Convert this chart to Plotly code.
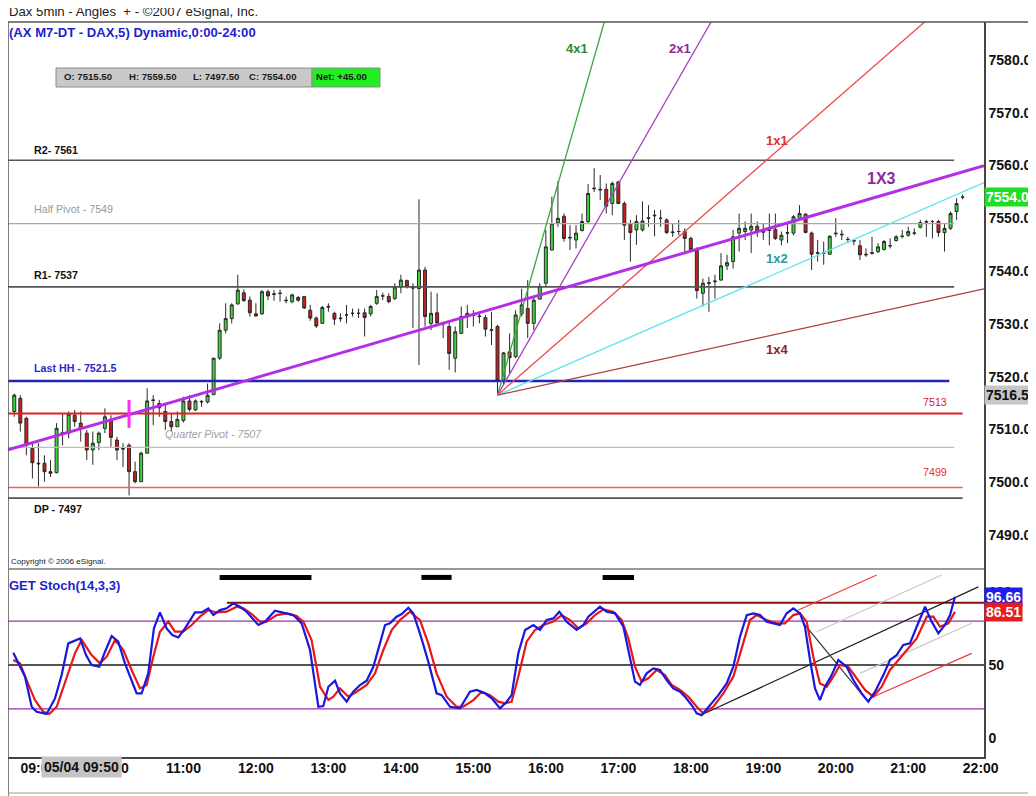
import plotly.graph_objects as go

# ---------------- data ----------------
first_bar_minute = 520      # 08:40, minutes after midnight
bar_minutes = 5

opens = [7513.4, 7515.9, 7512.1, 7506.4, 7503.6, 7503.6, 7502.0, 7501.8, 7509.3, 7509.3,
         7512.7, 7511.2, 7509.3, 7506.1, 7507.5, 7510.2, 7511.9, 7508.0, 7506.4, 7507.0,
         7502.0, 7500.1, 7505.5, 7515.6, 7514.9, 7513.4, 7511.5, 7510.5, 7511.7, 7515.4,
         7513.7, 7515.2, 7515.2, 7516.6, 7523.5, 7528.8, 7531.0, 7533.8, 7535.9, 7534.5,
         7531.9, 7531.9, 7536.1, 7535.7, 7535.8, 7534.5, 7534.2, 7535.0, 7535.2, 7532.6,
         7531.1, 7530.1, 7533.3, 7532.0, 7531.1, 7531.7, 7532.0, 7532.0, 7532.1, 7531.9,
         7533.9, 7535.3, 7535.2, 7534.8, 7537.0, 7538.2, 7536.9, 7536.7, 7540.2, 7530.1,
         7532.1, 7530.1, 7529.5, 7523.5, 7528.2, 7532.0, 7531.7, 7531.5, 7531.2, 7528.9,
         7529.5, 7519.2, 7524.7, 7523.8, 7531.9, 7532.9, 7530.1, 7534.7, 7537.7, 7544.0,
         7549.2, 7550.4, 7546.4, 7545.9, 7547.7, 7549.4, 7555.6, 7555.5, 7555.5, 7552.8,
         7556.9, 7552.8, 7548.9, 7547.8, 7547.8, 7550.0, 7550.6, 7550.0, 7549.7, 7547.3,
         7547.5, 7547.5, 7546.2, 7544.1, 7535.8, 7537.8, 7538.0, 7538.3, 7541.0, 7541.8,
         7547.2, 7547.5, 7547.8, 7548.5, 7547.5, 7547.8, 7547.9, 7545.9, 7547.3, 7547.2,
         7550.0, 7550.8, 7547.2, 7543.5, 7543.5, 7543.2, 7547.2, 7547.0, 7546.0, 7545.8,
         7544.8, 7543.2, 7543.5, 7543.7, 7544.1, 7544.8, 7545.8, 7546.6, 7546.8, 7547.2,
         7548.3, 7549.4, 7549.4, 7549.4, 7547.3, 7548.1, 7551.3, 7554.0]
highs = [7516.8, 7516.5, 7512.4, 7507.7, 7507.4, 7505.1, 7504.2, 7511.2, 7513.0, 7513.4,
         7513.7, 7513.4, 7509.9, 7509.6, 7509.6, 7514.0, 7512.7, 7508.6, 7507.4, 7507.4,
         7503.9, 7505.8, 7517.8, 7516.5, 7515.6, 7514.9, 7513.0, 7513.4, 7516.2, 7516.5,
         7515.7, 7515.6, 7518.7, 7523.6, 7530.1, 7533.9, 7533.9, 7539.3, 7536.5, 7535.2,
         7533.9, 7536.4, 7536.5, 7536.4, 7536.5, 7535.2, 7535.7, 7535.3, 7535.3, 7533.6,
         7531.4, 7533.4, 7533.9, 7532.3, 7532.0, 7533.6, 7532.9, 7532.9, 7532.9, 7533.6,
         7536.4, 7535.9, 7535.8, 7537.7, 7539.3, 7538.4, 7537.7, 7553.6, 7540.8, 7536.1,
         7535.8, 7530.4, 7530.4, 7529.5, 7533.3, 7533.6, 7532.6, 7531.9, 7531.7, 7532.3,
         7529.8, 7524.7, 7528.2, 7532.6, 7536.7, 7538.3, 7535.2, 7537.7, 7547.8, 7554.1,
         7557.0, 7550.9, 7548.7, 7548.7, 7550.9, 7556.5, 7559.5, 7558.2, 7556.6, 7557.0,
         7557.1, 7553.2, 7549.7, 7550.6, 7553.2, 7552.5, 7551.6, 7551.6, 7550.0, 7549.0,
         7549.7, 7548.1, 7546.5, 7544.5, 7538.6, 7538.9, 7539.3, 7543.4, 7543.1, 7547.8,
         7550.9, 7549.4, 7550.9, 7549.4, 7549.1, 7550.9, 7550.9, 7547.5, 7549.1, 7550.6,
         7552.5, 7550.9, 7547.5, 7545.9, 7545.6, 7546.8, 7550.0, 7547.8, 7546.5, 7546.0,
         7545.9, 7544.3, 7546.5, 7545.3, 7545.9, 7546.2, 7546.8, 7547.8, 7548.4, 7548.1,
         7549.7, 7549.7, 7549.7, 7549.7, 7549.1, 7551.3, 7553.8, 7554.5]
lows = [7512.4, 7509.6, 7505.1, 7500.7, 7499.2, 7500.1, 7501.0, 7501.7, 7507.0, 7508.3,
        7510.5, 7507.7, 7504.2, 7503.3, 7506.1, 7509.3, 7506.7, 7504.2, 7502.9, 7497.5,
        7499.8, 7500.1, 7505.5, 7510.8, 7512.4, 7509.9, 7509.6, 7510.5, 7511.3, 7513.4,
        7513.5, 7514.3, 7514.9, 7516.5, 7523.2, 7528.2, 7530.1, 7533.6, 7534.2, 7531.4,
        7531.4, 7531.7, 7534.5, 7534.4, 7534.2, 7533.9, 7533.9, 7534.2, 7532.8, 7530.6,
        7529.2, 7530.0, 7532.3, 7529.8, 7530.4, 7530.1, 7531.4, 7531.1, 7527.6, 7531.4,
        7533.6, 7534.5, 7533.9, 7534.5, 7535.8, 7536.7, 7529.2, 7522.2, 7529.5, 7528.8,
        7529.8, 7527.3, 7521.3, 7520.8, 7528.1, 7529.2, 7529.5, 7530.1, 7527.6, 7526.0,
        7516.5, 7518.5, 7520.6, 7523.5, 7531.4, 7527.3, 7528.8, 7534.6, 7537.1, 7543.9,
        7548.4, 7545.6, 7544.0, 7544.3, 7547.5, 7549.0, 7555.0, 7553.5, 7550.9, 7550.6,
        7552.7, 7545.9, 7541.8, 7545.0, 7547.5, 7548.4, 7546.6, 7548.4, 7547.0, 7546.5,
        7546.8, 7543.7, 7543.7, 7534.8, 7533.3, 7532.3, 7534.8, 7538.2, 7540.2, 7540.5,
        7543.7, 7545.9, 7543.4, 7546.5, 7545.9, 7544.9, 7545.9, 7544.9, 7545.3, 7546.8,
        7549.7, 7547.2, 7540.2, 7541.8, 7541.2, 7543.1, 7546.5, 7545.9, 7545.3, 7544.9,
        7542.1, 7542.7, 7543.1, 7543.4, 7543.9, 7544.3, 7545.6, 7546.2, 7546.5, 7546.8,
        7548.1, 7546.5, 7546.2, 7546.5, 7543.7, 7547.8, 7549.7, 7553.6]
closes = [7516.5, 7511.2, 7507.0, 7503.7, 7503.5, 7502.0, 7501.7, 7510.2, 7509.4, 7512.9,
          7511.5, 7510.2, 7506.1, 7507.4, 7509.3, 7512.4, 7508.5, 7506.1, 7506.3, 7502.0,
          7500.1, 7505.5, 7515.4, 7515.5, 7514.1, 7511.5, 7510.5, 7511.9, 7515.4, 7513.8,
          7515.4, 7515.3, 7516.5, 7523.5, 7528.8, 7531.0, 7533.6, 7536.4, 7534.4, 7532.1,
          7531.5, 7536.1, 7535.3, 7535.6, 7535.8, 7534.4, 7535.5, 7534.5, 7533.0, 7531.1,
          7529.6, 7533.1, 7533.2, 7530.9, 7531.0, 7531.7, 7532.0, 7532.0, 7531.2, 7533.3,
          7535.2, 7535.3, 7534.2, 7537.0, 7538.3, 7537.1, 7536.8, 7540.2, 7531.4, 7532.0,
          7530.2, 7530.0, 7524.4, 7528.5, 7531.4, 7531.4, 7531.6, 7531.4, 7529.0, 7528.8,
          7519.3, 7524.5, 7523.6, 7531.7, 7533.6, 7530.1, 7534.5, 7537.1, 7544.6, 7549.0,
          7550.0, 7546.2, 7546.3, 7547.2, 7549.4, 7554.7, 7555.7, 7555.4, 7552.3, 7556.6,
          7552.8, 7548.7, 7547.3, 7549.4, 7549.5, 7550.1, 7550.5, 7550.0, 7547.3, 7547.4,
          7547.5, 7546.2, 7544.1, 7536.3, 7537.7, 7537.7, 7538.1, 7541.0, 7541.6, 7546.5,
          7548.1, 7548.1, 7548.5, 7547.5, 7547.4, 7547.7, 7546.2, 7546.8, 7547.2, 7550.3,
          7550.9, 7547.3, 7543.2, 7543.4, 7543.4, 7546.6, 7547.1, 7546.9, 7546.0, 7545.7,
          7543.1, 7543.1, 7543.4, 7544.6, 7545.6, 7544.8, 7546.5, 7546.6, 7547.5, 7547.2,
          7549.2, 7549.3, 7549.4, 7547.3, 7548.1, 7550.9, 7552.8, 7554.0]

tick_minutes = [540, 600, 660, 720, 780, 840, 900, 960, 1020, 1080, 1140, 1200, 1260, 1320]
tick_labels = ["09:00", "10:00", "11:00", "12:00", "13:00", "14:00", "15:00",
               "16:00", "17:00", "18:00", "19:00", "20:00", "21:00", "22:00"]
price_ticks = [7490, 7500, 7510, 7520, 7530, 7540, 7550, 7560, 7570, 7580]
price_tick_labels = ["7490.00", "7500.00", "7510.00", "7520.00", "7530.00",
                     "7540.00", "7550.00", "7560.00", "7570.00", "7580.00"]

level_labels = ["R2- 7561", "Half Pivot - 7549", "R1- 7537", "Last HH - 7521.5",
                "7513", "Quarter Pivot - 7507", "7499", "DP - 7497"]
level_prices = [7561, 7549, 7537, 7519.2, 7513, 7506.6, 7499, 7497]
level_end_minutes = [1298, 1298, 1298, 1294, 1305, 1298, 1305, 1305]

fan_labels = ["4x1", "2x1", "1x1", "1x2", "1x4"]
fan_slopes = [4, 2, 1, 0.5, 0.25]          # points per bar
fan_origin_minute = 920
fan_origin_price = 7516.5

trend_label = "1X3"
trend_anchor_minute = 615
trend_anchor_price = 7512.8
trend_slope = 1 / 3

ohlc_texts = ["O: 7515.50", "H: 7559.50", "L: 7497.50", "C: 7554.00", "Net: +45.00"]
last_price = 7554.00
fan_low_price = 7516.50
stoch_k_last = 96.66
stoch_d_last = 86.51

k_times = [519.2, 528.9, 534.4, 538.5, 546.8, 553.7, 559.2, 564.7, 574.4, 579.4, 584.0, 590.4,
           595.1, 600.6, 606.1, 611.6, 621.3, 625.4, 630.9, 635.6, 640.6, 646.1, 650.8, 655.8,
           661.3, 669.6, 675.1, 680.6, 684.8, 690.3, 695.8, 701.3, 706.8, 712.3, 722.0, 727.5,
           735.8, 742.7, 751.0, 757.9, 764.8, 771.7, 775.8, 780.0, 785.5, 789.6, 795.1, 800.6,
           806.2, 811.7, 817.2, 822.7, 826.9, 831.0, 836.5, 840.7, 846.2, 850.3, 855.8, 862.7,
           869.6, 873.8, 880.7, 888.9, 897.2, 902.7, 909.6, 915.2, 922.1, 927.6, 931.7, 937.2,
           942.8, 949.7, 955.2, 960.7, 966.2, 971.2, 977.2, 985.5, 991.0, 995.2, 1004.8, 1010.4,
           1017.3, 1024.2, 1029.7, 1033.8, 1037.9, 1043.5, 1049.0, 1054.5, 1060.0, 1065.5,
           1071.1, 1075.2, 1080.7, 1084.9, 1089.0, 1095.9, 1102.8, 1109.7, 1115.2, 1120.7,
           1126.3, 1131.8, 1137.3, 1142.8, 1148.3, 1153.8, 1159.4, 1164.9, 1170.4, 1174.5,
           1178.7, 1182.8, 1186.9, 1191.1, 1196.6, 1202.1, 1209.0, 1214.5, 1221.4, 1226.9,
           1232.5, 1239.4, 1244.9, 1250.4, 1255.9, 1261.4, 1267.0, 1273.9, 1279.4, 1284.9,
           1290.4, 1294.6, 1298.7]
k_values = [58.4, 42.0, 21.4, 18.0, 16.4, 27.1, 43.1, 64.8, 68.2, 56.8, 50.0, 48.8,
            59.1, 69.8, 66.0, 51.1, 30.6, 30.6, 44.3, 75.1, 86.0, 75.1, 70.5, 68.9,
            75.1, 86.0, 86.0, 88.8, 84.2, 87.6, 88.8, 92.2, 89.9, 86.5, 77.4, 79.6,
            87.2, 85.8, 84.2, 78.5, 60.3, 21.4, 21.9, 35.1, 39.3, 30.6, 24.9, 31.7,
            36.3, 39.3, 48.8, 64.8, 77.4, 78.5, 83.1, 84.9, 89.2, 85.4, 71.7, 52.3,
            30.6, 29.4, 21.4, 20.3, 31.7, 32.9, 30.6, 27.2, 20.3, 24.9, 29.4, 58.0,
            74.0, 77.4, 74.0, 80.8, 81.9, 86.5, 79.7, 74.0, 77.4, 83.1, 89.9, 86.5,
            85.4, 76.2, 55.7, 38.6, 36.3, 44.3, 47.7, 46.6, 39.7, 34.0,
            31.7, 28.3, 22.6, 16.9, 15.7, 22.6, 29.4, 37.4, 48.8, 69.4,
            84.2, 85.4, 84.2, 79.7, 78.5, 77.4, 85.4, 88.8, 85.4, 76.2,
            53.4, 34.0, 26.0, 35.1, 43.1, 53.4, 48.8, 39.7, 30.6, 24.9,
            31.7, 43.1, 53.4, 56.8, 63.7, 64.8, 76.2, 89.9, 79.7, 71.7,
            77.4, 84.2, 96.7]
d_times = [519.2, 524.7, 530.2, 537.1, 544.0, 549.0, 555.1, 563.3, 570.2, 575.8, 584.0, 590.9,
           596.5, 603.4, 610.3, 617.1, 624.1, 629.6, 635.1, 640.6, 647.5, 653.0, 659.9, 666.8,
           673.7, 680.6, 687.5, 695.8, 704.1, 709.6, 716.5, 723.4, 728.9, 737.2, 745.5, 753.7,
           759.3, 766.1, 773.1, 780.0, 784.1, 789.6, 796.5, 803.4, 811.7, 818.6, 825.5, 832.4,
           839.3, 847.5, 855.8, 862.7, 869.6, 877.9, 886.2, 891.7, 900.0, 906.9, 913.8, 920.7,
           926.2, 931.7, 937.2, 944.1, 951.0, 957.9, 966.2, 973.1, 980.0, 986.9, 993.8, 1000.7,
           1007.6, 1015.9, 1022.8, 1028.3, 1033.8, 1039.3, 1044.8, 1051.8, 1058.6, 1064.2,
           1071.1, 1078.0, 1084.9, 1090.4, 1098.7, 1106.9, 1115.2, 1122.1, 1129.0, 1134.5,
           1142.8, 1151.1, 1158.0, 1164.9, 1170.4, 1175.9, 1181.4, 1186.9, 1192.5, 1198.0,
           1203.5, 1210.4, 1217.3, 1224.2, 1231.1, 1238.0, 1244.9, 1251.8, 1258.7, 1267.0,
           1275.3, 1280.8, 1286.3, 1293.2, 1298.7]
d_values = [53.4, 51.1, 39.7, 26.0, 18.0, 16.4, 21.4, 42.0, 58.0, 67.1, 56.8, 51.1,
            55.7, 67.1, 60.3, 46.6, 34.0, 36.3, 55.7, 72.8, 79.7, 72.8, 72.8, 77.4,
            83.1, 87.6, 86.0, 86.5, 89.9, 88.8, 84.9, 79.7, 79.7, 84.2, 85.4, 83.5,
            79.7, 67.1, 35.1, 26.0, 28.3, 34.0, 28.3, 31.7, 36.3, 44.3, 60.3, 74.0,
            80.8, 86.5, 80.8, 64.8, 44.3, 28.3, 21.4, 21.4, 26.0, 31.7, 29.4, 24.9,
            23.7, 24.9, 42.0, 66.0, 74.0, 77.4, 79.7, 84.2, 80.8, 75.1, 78.5, 84.2,
            88.1, 86.5, 80.8, 68.2, 48.8, 38.6, 40.9, 46.6, 43.1, 36.3,
            32.9, 28.3, 21.4, 16.9, 21.4, 30.6, 42.0, 61.4, 80.8, 84.2,
            80.8, 78.5, 78.5, 84.2, 85.4, 79.7, 55.7, 37.4, 35.1, 42.0,
            50.0, 48.8, 40.9, 32.9, 28.3, 35.1, 46.6, 53.4, 60.3, 68.2,
            83.1, 83.1, 76.2, 78.5, 86.5]

stoch_bands = [80, 50, 20]
stoch_resist_level = 92.7
stoch_resist_start = 696
stoch_mark_level = 110
stoch_mark_starts = [690, 857, 1007]
stoch_mark_ends = [766, 882, 1033]
stoch_tick_values = [0, 50, 100]

# user-drawn stochastic trend lines: start (minute, value) -> end (minute, value)
sline_t0 = [1090.4, 1174.5, 1169.0, 1228.4, 1184.2, 1220.0]
sline_v0 = [16.4, 77.4, 87.7, 27.2, 72.8, 44.3]
sline_t1 = [1318.0, 1225.6, 1233.9, 1312.5, 1287.7, 1312.5]
sline_v1 = [103.5, 26.0, 111.6, 58.0, 111.6, 78.6]

marker_minute = 615
marker_low, marker_high = 7510.3, 7515.6

# ---------------- layout geometry ----------------
# the page body adds an 8px offset; coordinates below are page pixels
OFF = 8
W, H = 1036, 796
ML, MT = 0, 14
PW, PH = 976, 735
MR = W - ML - PW
MB = H - MT - PH


def px(x):
    return (x - OFF - ML) / PW


def py(y):
    return (H - MB - (y - OFF)) / PH


SPLIT = py(569)
X_RANGE = [514.8, 1322.7]
SANS = "Liberation Sans, Arial"

bar_times = [first_bar_minute + bar_minutes * i for i in range(len(opens))]

fig = go.Figure()

fig.add_trace(go.Candlestick(
    x=bar_times, open=opens, high=highs, low=lows, close=closes,
    xaxis="x", yaxis="y",
    increasing=dict(line=dict(color="#2a2a2a", width=1), fillcolor="#38d838"),
    decreasing=dict(line=dict(color="#2a2a2a", width=1), fillcolor="#c81e1e"),
    whiskerwidth=0, showlegend=False, hoverinfo="skip",
))

# horizontal pivot levels
level_colors = ["#555555", "#a8a8a8", "#555555", "#2323b4", "#e41e1e", "#bdbdbd", "#f06262", "#555555"]
level_widths = [1.5, 1.2, 1.8, 2.5, 2, 1.2, 1.6, 1.8]
for p, e, c, w in zip(level_prices, level_end_minutes, level_colors, level_widths):
    fig.add_trace(go.Scatter(x=[X_RANGE[0], e], y=[p, p], mode="lines",
                             line=dict(color=c, width=w), xaxis="x", yaxis="y",
                             showlegend=False, hoverinfo="skip"))

# gann fan
fan_colors = ["#3aa83a", "#a646c0", "#ee4a4a", "#5fe4ee", "#b03c3c"]
for s, c in zip(fan_slopes, fan_colors):
    xe = X_RANGE[1]
    ye = fan_origin_price + s * (xe - fan_origin_minute) / bar_minutes
    fig.add_trace(go.Scatter(x=[fan_origin_minute, xe], y=[fan_origin_price, ye], mode="lines",
                             line=dict(color=c, width=1.3), xaxis="x", yaxis="y",
                             showlegend=False, hoverinfo="skip"))

# 1x3 trend line
tx = [X_RANGE[0], X_RANGE[1]]
ty = [trend_anchor_price + trend_slope * (t - trend_anchor_minute) / bar_minutes for t in tx]
fig.add_trace(go.Scatter(x=tx, y=ty, mode="lines", line=dict(color="#b42ee8", width=3),
                         xaxis="x", yaxis="y", showlegend=False, hoverinfo="skip"))

# magenta marker
fig.add_trace(go.Scatter(x=[marker_minute, marker_minute], y=[marker_low, marker_high], mode="lines",
                         line=dict(color="#ff2cf0", width=3), xaxis="x", yaxis="y",
                         showlegend=False, hoverinfo="skip"))

# ---------- stochastic panel ----------
band_colors = ["#9b30a8", "#555555", "#9b30a8"]
band_widths = [1.3, 2, 1.3]
for b, c, w in zip(stoch_bands, band_colors, band_widths):
    fig.add_trace(go.Scatter(x=X_RANGE, y=[b, b], mode="lines", line=dict(color=c, width=w),
                             xaxis="x", yaxis="y2", showlegend=False, hoverinfo="skip"))
fig.add_trace(go.Scatter(x=[stoch_resist_start, X_RANGE[1]], y=[stoch_resist_level] * 2, mode="lines",
                         line=dict(color="#8a0f0f", width=2), xaxis="x", yaxis="y2",
                         showlegend=False, hoverinfo="skip"))
for a, b in zip(stoch_mark_starts, stoch_mark_ends):
    fig.add_trace(go.Scatter(x=[a, b], y=[stoch_mark_level] * 2, mode="lines",
                             line=dict(color="#000000", width=5), xaxis="x", yaxis="y2",
                             showlegend=False, hoverinfo="skip"))

sline_colors = ["#202020", "#404040", "#f03a3a", "#f03a3a", "#c8c8c8", "#c8c8c8"]
for t0, v0, t1, v1, c in zip(sline_t0, sline_v0, sline_t1, sline_v1, sline_colors):
    fig.add_trace(go.Scatter(x=[t0, t1], y=[v0, v1], mode="lines", line=dict(color=c, width=1.2),
                             xaxis="x", yaxis="y2", showlegend=False, hoverinfo="skip"))

fig.add_trace(go.Scatter(x=d_times, y=d_values, mode="lines", line=dict(color="#e81818", width=2.2),
                         xaxis="x", yaxis="y2", showlegend=False, hoverinfo="skip"))
fig.add_trace(go.Scatter(x=k_times, y=k_values, mode="lines", line=dict(color="#1818e0", width=2.2),
                         xaxis="x", yaxis="y2", showlegend=False, hoverinfo="skip"))

ann = []

# level labels
lvl_x = [534.7, 534.7, 534.7, 534.7, 1282, 643, 1282, 534.7]
lvl_anchor = ["left", "left", "left", "left", "center", "left", "center", "left"]
lvl_shift = [10, 15, 12, 13, 12, 13, 16, -11]
lvl_font_col = ["#111111", "#999999", "#111111", "#2a2ac8", "#e02020", "#a0a0a0", "#e83030", "#111111"]
lvl_bold = ["bold", "normal", "bold", "bold", "normal", "normal", "normal", "bold"]
lvl_style = ["normal"] * 5 + ["italic"] + ["normal"] * 2
for t, p, x, a, s, c, b, st in zip(level_labels, level_prices, lvl_x, lvl_anchor, lvl_shift,
                                   lvl_font_col, lvl_bold, lvl_style):
    ann.append(dict(x=x, y=p, xref="x", yref="y", text=t, showarrow=False, xanchor=a,
                    yanchor="middle", yshift=s,
                    font=dict(family=SANS, size=10.7, color=c, weight=b, style=st)))

# fan labels
fan_lab_x = [985.8, 1071.1, 1151.3, 1151.3, 1151.3]
fan_lab_y = [7582.1, 7582.1, 7564.8, 7542.3, 7525.1]
fan_lab_col = ["#2e8b2e", "#8a2a9a", "#e03030", "#2a9c9c", "#8e2424"]
for t, x, y, c in zip(fan_labels, fan_lab_x, fan_lab_y, fan_lab_col):
    ann.append(dict(x=x, y=y, xref="x", yref="y", text=t, showarrow=False,
                    font=dict(family=SANS, size=13, color=c, weight="bold")))
ann.append(dict(x=1238.2, y=7557.5, xref="x", yref="y", text=trend_label, showarrow=False,
                font=dict(family=SANS, size=16, color="#8a2a9a", weight="bold")))

# titles
ann.append(dict(x=px(7), y=py(12), xref="paper", yref="paper", text="Dax 5min - Angles  + - ©2007 eSignal, Inc.",
                showarrow=False, xanchor="left", yanchor="middle",
                font=dict(family=SANS, size=13.2, color="#222222")))
ann.append(dict(x=px(7), y=py(32), xref="paper", yref="paper", text="(AX M7-DT - DAX,5) Dynamic,0:00-24:00",
                showarrow=False, xanchor="left", yanchor="middle",
                font=dict(family=SANS, size=13.1, color="#1e1ed2", weight="bold")))
ann.append(dict(x=px(7), y=py(585), xref="paper", yref="paper", text="GET Stoch(14,3,3)",
                showarrow=False, xanchor="left", yanchor="middle",
                font=dict(family=SANS, size=13, color="#1e1ed2", weight="bold")))
ann.append(dict(x=px(9), y=py(561), xref="paper", yref="paper", text="Copyright © 2006 eSignal.",
                showarrow=False, xanchor="left", yanchor="middle",
                font=dict(family=SANS, size=8.1, color="#222222")))

# OHLC strip text
ohlc_x = [62, 127, 191, 247, 314]
for t, x in zip(ohlc_texts, ohlc_x):
    ann.append(dict(x=px(x), y=py(77), xref="paper", yref="paper", text=t, showarrow=False,
                    xanchor="left", yanchor="middle",
                    font=dict(family=SANS, size=9.6, color="#1a1a1a", weight="bold")))

# right axis value boxes
ann.append(dict(x=1.0, y=last_price, xref="paper", yref="y", text=f"{last_price:.2f}", showarrow=False,
                xanchor="left", yanchor="middle", bgcolor="#22dd22", borderpad=1,
                font=dict(family=SANS, size=14, color="#ffffff", weight="bold")))
ann.append(dict(x=1.0, y=fan_low_price, xref="paper", yref="y", text=f"{fan_low_price:.2f}", showarrow=False,
                xanchor="left", yanchor="middle", bgcolor="#c6c6c6", borderpad=1,
                font=dict(family=SANS, size=14, color="#111111", weight="bold")))
ann.append(dict(x=1.0, y=stoch_k_last, xref="paper", yref="y2", text=f"{stoch_k_last:.2f}", showarrow=False,
                xanchor="left", yanchor="middle", bgcolor="#1e1ee6", borderpad=1,
                font=dict(family=SANS, size=14, color="#ffffff", weight="bold")))
ann.append(dict(x=1.0, y=stoch_d_last, xref="paper", yref="y2", text=f"{stoch_d_last:.2f}", showarrow=False,
                xanchor="left", yanchor="middle", bgcolor="#e61e1e", borderpad=1,
                font=dict(family=SANS, size=14, color="#ffffff", weight="bold")))

# cursor date box on time axis
ann.append(dict(x=px(81), y=py(767), xref="paper", yref="paper", text="05/04 09:50", showarrow=False,
                xanchor="center", yanchor="middle", bgcolor="#c4c4c4", borderpad=2,
                font=dict(family=SANS, size=14, color="#111111", weight="bold")))

shapes = [
    # OHLC strip
    dict(type="rect", xref="paper", yref="paper", x0=px(56), x1=px(312), y0=py(87), y1=py(68),
         fillcolor="#c9c9c9", line=dict(color="#8c8c8c", width=1), layer="above"),
    dict(type="rect", xref="paper", yref="paper", x0=px(312), x1=px(380), y0=py(87), y1=py(68),
         fillcolor="#22ee22", line=dict(color="#8c8c8c", width=1), layer="above"),
    # frame lines
    dict(type="line", xref="paper", yref="paper", x0=px(0), x1=px(1040), y0=1, y1=1,
         line=dict(color="#555555", width=1.5)),
    dict(type="line", xref="paper", yref="paper", x0=0, x1=0, y0=py(800), y1=1,
         line=dict(color="#555555", width=1.5)),
    dict(type="line", xref="paper", yref="paper", x0=0, x1=1, y0=SPLIT, y1=SPLIT,
         line=dict(color="#777777", width=1.5)),
    dict(type="line", xref="paper", yref="paper", x0=0, x1=px(1040), y0=py(793), y1=py(793),
         line=dict(color="#999999", width=1)),
]

fig.update_layout(
    width=W, height=H,
    margin=dict(l=ML, r=MR, t=MT, b=MB, pad=0, autoexpand=False),
    paper_bgcolor="#ffffff", plot_bgcolor="#ffffff",
    showlegend=False, hovermode=False,
    xaxis=dict(domain=[0, 1], range=X_RANGE, anchor="y2", showgrid=False, zeroline=False,
               automargin=False, showline=True, linecolor="#444444", linewidth=1.5,
               tickmode="array", tickvals=tick_minutes, ticktext=tick_labels, ticks="",
               ticklabelstandoff=-3,
               tickfont=dict(family=SANS, size=14, color="#111111", weight="bold"),
               rangeslider=dict(visible=False)),
    yaxis=dict(domain=[SPLIT, 1], range=[7483.56, 7587.2], anchor="x", side="right",
               automargin=False, showgrid=False, zeroline=False, showline=True,
               linecolor="#444444", linewidth=1.5,
               tickmode="array", tickvals=price_ticks, ticktext=price_tick_labels, ticks="",
               tickfont=dict(family=SANS, size=14, color="#111111", weight="bold")),
    yaxis2=dict(domain=[0, SPLIT], range=[-13.0, 115.75], anchor="x", side="right",
                automargin=False, showgrid=False, zeroline=False, showline=True,
                linecolor="#444444", linewidth=1.5,
                tickmode="array", tickvals=stoch_tick_values, ticks="",
                tickfont=dict(family=SANS, size=14, color="#111111", weight="bold")),
    annotations=ann,
    shapes=shapes,
)

fig.write_html("out.html")
